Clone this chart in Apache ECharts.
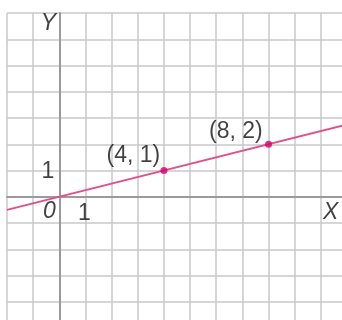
<!DOCTYPE html>
<html>
<head>
<meta charset="utf-8">
<script src="https://cdn.jsdelivr.net/npm/echarts@6/dist/echarts.min.js"></script>
<style>
  html, body { margin: 0; padding: 0; background: #fff; }
  #chart { width: 342px; height: 320px; }
</style>
</head>
<body>
<div id="chart"></div>
<script>
// line y = x/4, drawn edge to edge
const lineData = [[-2, -0.5], [11, 2.75]];
const points = [[4, 1], [8, 2]];
// text placed at data coords: [x, y, text, italic]
const notes = [
    [-0.42, 6.61, 'Y', true], [10.38, -0.59, 'X', true], [-0.38, -0.55, '0', true],
    [0.96, -0.63, '1', false], [-0.44, 0.97, '1', false],
    [2.83, 1.56, '(4, 1)', false], [6.75, 2.48, '(8, 2)', false]
];

const font = "'Liberation Sans', Arial, sans-serif";
const chart = echarts.init(document.getElementById('chart'));

chart.setOption({
    animation: false,
    grid: { left: 7, right: -5, top: 13, bottom: -8, outerBoundsMode: 'none', containLabel: false },
    xAxis: {
        type: 'value', min: -2, max: 11, interval: 1,
        axisLine: { onZero: true, lineStyle: { color: '#9a9a9a', width: 2 } },
        axisTick: { show: false },
        axisLabel: { show: false },
        splitLine: { lineStyle: { color: '#c9c9c9', width: 1.5 } }
    },
    yAxis: {
        type: 'value', min: -5, max: 7, interval: 1,
        axisLine: { onZero: true, lineStyle: { color: '#9a9a9a', width: 2 } },
        axisTick: { show: false },
        axisLabel: { show: false },
        splitLine: { lineStyle: { color: '#c9c9c9', width: 1.5 } }
    },
    series: [
        {
            type: 'line',
            data: lineData,
            symbol: 'none',
            lineStyle: { color: '#e0508c', width: 2 },
            z: 3
        },
        {
            type: 'scatter',
            data: points,
            symbolSize: 7,
            itemStyle: { color: '#d6006c' },
            z: 4
        },
        {
            type: 'scatter',
            data: notes.map(n => ({
                value: [n[0], n[1]], name: n[2],
                label: { fontStyle: n[3] ? 'italic' : 'normal' }
            })),
            symbolSize: 0,
            silent: true,
            label: {
                show: true, position: 'inside', formatter: '{b}',
                color: '#111', fontFamily: font, fontSize: 23
            },
            labelLayout: { hideOverlap: false },
            z: 5
        }
    ]
});
</script>
</body>
</html>
